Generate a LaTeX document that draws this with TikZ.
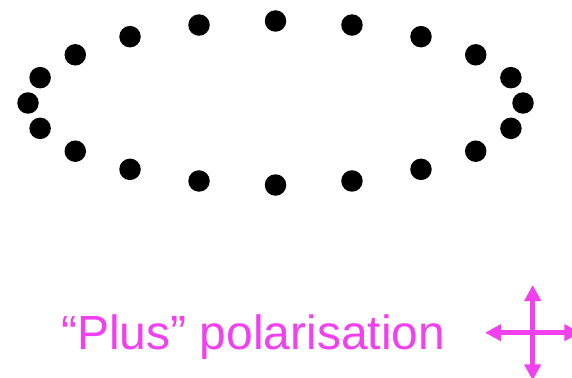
\documentclass[tikz,border=0pt]{standalone}
\usepackage{fontspec}
\setmainfont{Liberation Sans}
\usetikzlibrary{arrows.meta}
\definecolor{pol}{RGB}{240,64,240}
\begin{document}
\begin{tikzpicture}[x=1pt,y=-1pt,
  dot/.style={circle,fill=black,inner sep=0pt,minimum size=21.5pt},
  lbl/.style={text=pol,font=\fontsize{48}{52}\selectfont,inner sep=0pt,anchor=base west},
  polarrow/.style={draw=pol,line width=5pt,{Triangle[width=16pt,length=16pt]}-{Triangle[width=16pt,length=16pt]}}]
\useasboundingbox (0,0) rectangle (572,377);
\foreach \i in {0,...,19}{
  \node[dot] (d\i) at ({275.5+247.5*cos(18*\i)},{103-82*sin(18*\i)}) {};
}
\node[lbl] (label) at (61,349.5) {“Plus” polarisation};
\begin{scope}
\clip (0,0) rectangle (572,377);
\coordinate (c) at (532.7,332.7);
\coordinate (l) at (485,332.7);
\coordinate (r) at (580.4,332.7);
\coordinate (t) at (532.7,285);
\coordinate (b) at (532.7,380.4);
\draw[polarrow] (l) -- (r);
\draw[polarrow] (t) -- (b);
\end{scope}
\end{tikzpicture}
\end{document}
